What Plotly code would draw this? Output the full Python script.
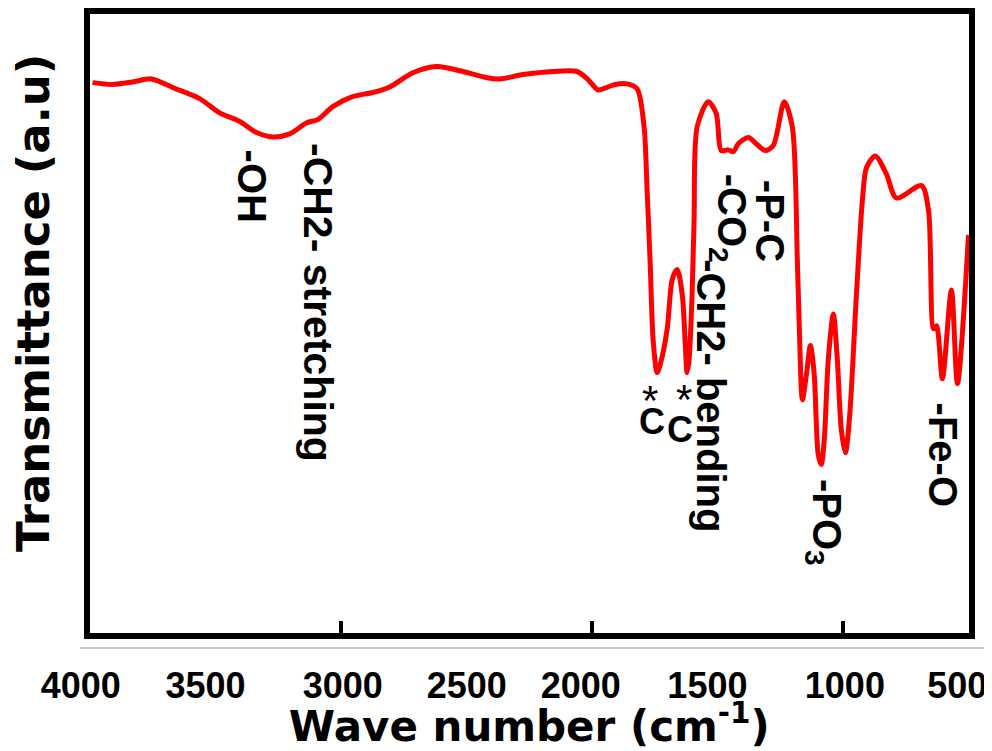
import plotly.graph_objects as go

# ---- data (wavenumber in cm-1, transmittance in a.u.) ----
wavenumber = [3988, 3908, 3829, 3753, 3669, 3562, 3482, 3402, 3335, 3271, 3203, 3135, 3092, 3032,
              2956, 2873, 2805, 2713, 2618, 2514, 2418, 2367, 2275, 2155, 2060, 2016, 1976, 1944,
              1908, 1861, 1821, 1793, 1781, 1769, 1757, 1741, 1729, 1701, 1681, 1661, 1641, 1629,
              1622, 1614, 1602, 1594, 1582, 1538, 1506, 1486, 1458, 1438, 1418, 1378, 1347, 1311,
              1279, 1235, 1203, 1183, 1175, 1163, 1147, 1131, 1116, 1100, 1088, 1076, 1060, 1040,
              1024, 1008, 992, 976, 948, 924, 908, 873, 829, 789, 689, 661, 641, 629, 606, 570,
              546, 502]
transmittance = [89.0, 88.7, 89.1, 89.6, 88.2, 86.4, 84.1, 82.7, 80.9, 80.2, 80.7, 82.5, 83.0, 85.1,
                 86.7, 87.4, 88.3, 90.6, 91.6, 90.8, 89.8, 89.6, 90.3, 90.8, 90.8, 89.5, 87.8, 88.2,
                 88.7, 88.8, 88.0, 81.8, 71.6, 60.0, 47.3, 42.0, 43.3, 49.1, 57.1, 58.7, 54.6, 46.5,
                 42.0, 44.1, 54.6, 66.8, 81.8, 85.9, 84.0, 78.0, 78.1, 77.8, 79.1, 80.1, 79.1, 78.0,
                 78.8, 85.9, 81.8, 60.0, 48.9, 37.6, 41.7, 46.4, 41.7, 28.7, 27.1, 31.1, 44.1, 51.5,
                 44.1, 32.7, 29.0, 34.4, 54.6, 70.0, 75.2, 77.1, 74.2, 70.3, 72.3, 68.2, 49.1, 49.6,
                 41.0, 55.4, 40.2, 64.3]

# tick marks on the frame and the separate row of tick labels
frame_ticks = [3000, 2000, 1000]
label_positions = [4035, 3538, 2992, 2499, 2045, 1541, 994, 547]
label_texts = ["4000", "3500", "3000", "2500", "2000", "1500", "1000", "500"]

# band labels: text, wavenumber, transmittance, angle, size
band_texts = ["-OH", "-CH2- stretching", "-CO<sub>2</sub>", "-P-C", "-CH2- bending",
              "*", "C", "*", "C", "-PO<sub>3</sub>", "-Fe-O"]
band_x = [3353, 3091, 1455, 1292, 1527, 1769, 1761, 1634, 1650, 1077, 603]
band_y = [72.3, 53.3, 67.1, 66.6, 38.2, 37.5, 34.0, 37.7, 32.8, 17.8, 28.7]
band_angle = [90, 90, 90, 90, 90, 0, 0, 0, 0, 90, 90]
band_size = [40, 41, 40, 40, 40, 42, 36, 42, 36, 40, 40]

BOLD = "Liberation Sans, Arial, sans-serif"
BLACK = "DejaVu Sans, Arial Black, sans-serif"

fig = go.Figure()
fig.add_trace(go.Scatter(
    x=wavenumber, y=transmittance, mode="lines",
    line=dict(color="#ff0000", width=5, shape="spline", smoothing=0.8),
    showlegend=False, hoverinfo="skip"))

for t, x, y, a, s in zip(band_texts, band_x, band_y, band_angle, band_size):
    fig.add_annotation(
        x=x, y=y, xref="x", yref="y", text=t if t == "*" else "<b>" + t + "</b>",
        textangle=a, showarrow=False, xanchor="center", yanchor="middle",
        font=dict(family=BOLD, size=s, color="black"))

# y title (placed in the left margin)
fig.add_annotation(x=-0.0504, y=0.5408, xref="paper", yref="paper",
                   xanchor="center", yanchor="middle",
                   text="<b>Transmittance (a.u)</b>",
                   textangle=-90, showarrow=False,
                   font=dict(family=BLACK, size=45, color="black"))

fig.update_layout(
    width=984, height=743,
    margin=dict(l=72, r=0, t=2, b=103),
    paper_bgcolor="white", plot_bgcolor="rgba(0,0,0,0)",
    xaxis=dict(
        domain=[0.010417, 0.974781], range=[4000, 500],
        showline=True, linecolor="black", linewidth=6, mirror=True,
        showgrid=False, zeroline=False,
        ticks="inside", tickvals=frame_ticks, ticklen=12, tickwidth=4, tickcolor="black",
        showticklabels=False,
        title=dict(text="<b>Wave number (cm<sup>-1</sup>)</b>",
                   font=dict(family=BLACK, size=42, color="black"), standoff=81),
    ),
    xaxis2=dict(
        domain=[0, 1], range=[4037.8, 408.5], anchor="free", position=0,
        showline=True, linecolor="#c8c8c8", linewidth=1.5,
        showgrid=False, zeroline=False,
        ticks="outside", ticklen=6, tickcolor="rgba(0,0,0,0)",
        tickvals=label_positions, ticktext=label_texts,
        tickfont=dict(family=BOLD, size=36, color="black", weight="bold"),
    ),
    yaxis=dict(
        domain=[0.02351, 0.99451], range=[-0.2, 100.2],
        showline=True, linecolor="black", linewidth=6, mirror=True,
        showgrid=False, zeroline=False, ticks="", showticklabels=False,
    ),
)
# invisible trace to activate the label axis
fig.add_trace(go.Scatter(x=[label_positions[0]], y=[None], xaxis="x2", yaxis="y",
                         mode="lines", showlegend=False, hoverinfo="skip"))

fig.write_html("out.html")
